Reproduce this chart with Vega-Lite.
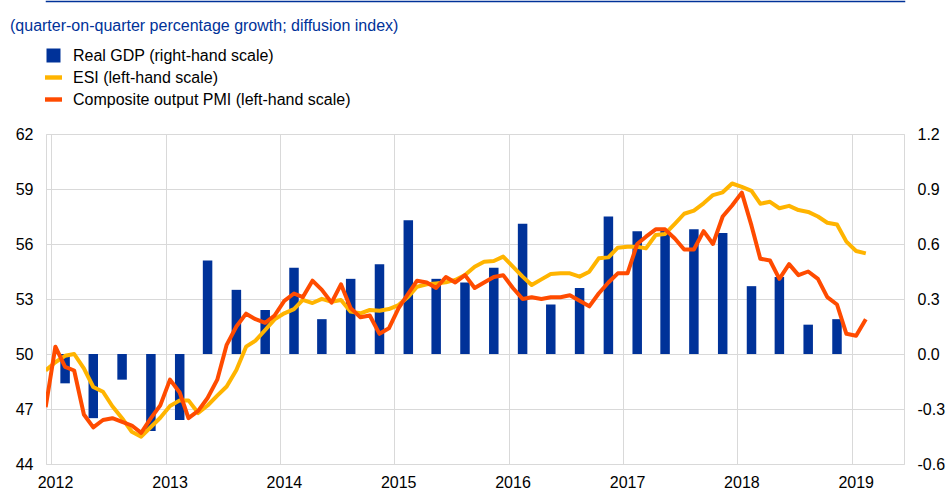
{
  "$schema": "https://vega.github.io/schema/vega-lite/v6.json",
  "width": 858,
  "height": 330,
  "autosize": {"type": "none"},
  "padding": {"left": 46, "top": 134, "right": 43, "bottom": 26},
  "background": "white",
  "title": {
    "text": "(quarter-on-quarter percentage growth; diffusion index)",
    "anchor": "start",
    "frame": "group",
    "orient": "top",
    "font": "Liberation Sans",
    "fontSize": 16,
    "fontWeight": "normal",
    "color": "#003299",
    "baseline": "alphabetic",
    "dx": -36,
    "offset": -46
  },
  "config": {
    "view": {"stroke": "#d9d9d9"},
    "font": "Liberation Sans",
    "axis": {
      "labelFont": "Liberation Sans",
      "labelFontSize": 16,
      "labelColor": "#000000",
      "ticks": false,
      "domain": false,
      "gridColor": "#d9d9d9",
      "gridWidth": 1,
      "title": null
    }
  },
  "datasets": {
    "gdp": [
      {"date": "2012-02-15", "gdp": -0.16},
      {"date": "2012-05-15", "gdp": -0.35},
      {"date": "2012-08-15", "gdp": -0.14},
      {"date": "2012-11-15", "gdp": -0.42},
      {"date": "2013-02-15", "gdp": -0.36},
      {"date": "2013-05-15", "gdp": 0.51},
      {"date": "2013-08-15", "gdp": 0.35},
      {"date": "2013-11-15", "gdp": 0.24},
      {"date": "2014-02-15", "gdp": 0.47},
      {"date": "2014-05-15", "gdp": 0.19},
      {"date": "2014-08-15", "gdp": 0.41},
      {"date": "2014-11-15", "gdp": 0.49},
      {"date": "2015-02-15", "gdp": 0.73},
      {"date": "2015-05-15", "gdp": 0.41},
      {"date": "2015-08-15", "gdp": 0.39},
      {"date": "2015-11-15", "gdp": 0.47},
      {"date": "2016-02-15", "gdp": 0.71},
      {"date": "2016-05-15", "gdp": 0.27},
      {"date": "2016-08-15", "gdp": 0.36},
      {"date": "2016-11-15", "gdp": 0.75},
      {"date": "2017-02-15", "gdp": 0.67},
      {"date": "2017-05-15", "gdp": 0.68},
      {"date": "2017-08-15", "gdp": 0.68},
      {"date": "2017-11-15", "gdp": 0.66},
      {"date": "2018-02-15", "gdp": 0.37},
      {"date": "2018-05-15", "gdp": 0.42},
      {"date": "2018-08-15", "gdp": 0.16},
      {"date": "2018-11-15", "gdp": 0.19}
    ],
    "indices": [
      {"date": "2011-12-15", "esi": 49.1, "pmi": 47.1},
      {"date": "2012-01-15", "esi": 49.55, "pmi": 50.4},
      {"date": "2012-02-15", "esi": 49.9, "pmi": 49.3},
      {"date": "2012-03-15", "esi": 50.0, "pmi": 49.1},
      {"date": "2012-04-15", "esi": 49.22, "pmi": 46.7},
      {"date": "2012-05-15", "esi": 48.2, "pmi": 46.0},
      {"date": "2012-06-15", "esi": 47.94, "pmi": 46.4},
      {"date": "2012-07-15", "esi": 47.15, "pmi": 46.5},
      {"date": "2012-08-15", "esi": 46.5, "pmi": 46.3},
      {"date": "2012-09-15", "esi": 45.76, "pmi": 46.1},
      {"date": "2012-10-15", "esi": 45.49, "pmi": 45.7},
      {"date": "2012-11-15", "esi": 46.02, "pmi": 46.5},
      {"date": "2012-12-15", "esi": 46.52, "pmi": 47.2},
      {"date": "2013-01-15", "esi": 47.16, "pmi": 48.6},
      {"date": "2013-02-15", "esi": 47.47, "pmi": 47.9},
      {"date": "2013-03-15", "esi": 47.47, "pmi": 46.5},
      {"date": "2013-04-15", "esi": 46.78, "pmi": 46.9},
      {"date": "2013-05-15", "esi": 47.19, "pmi": 47.6},
      {"date": "2013-06-15", "esi": 47.73, "pmi": 48.6},
      {"date": "2013-07-15", "esi": 48.23, "pmi": 50.5},
      {"date": "2013-08-15", "esi": 49.13, "pmi": 51.5},
      {"date": "2013-09-15", "esi": 50.4, "pmi": 52.2},
      {"date": "2013-10-15", "esi": 50.73, "pmi": 51.9},
      {"date": "2013-11-15", "esi": 51.31, "pmi": 51.7},
      {"date": "2013-12-15", "esi": 51.89, "pmi": 52.1},
      {"date": "2014-01-15", "esi": 52.22, "pmi": 52.9},
      {"date": "2014-02-15", "esi": 52.45, "pmi": 53.3},
      {"date": "2014-03-15", "esi": 52.95, "pmi": 53.1},
      {"date": "2014-04-15", "esi": 52.78, "pmi": 54.0},
      {"date": "2014-05-15", "esi": 53.01, "pmi": 53.5},
      {"date": "2014-06-15", "esi": 52.85, "pmi": 52.8},
      {"date": "2014-07-15", "esi": 52.95, "pmi": 53.8},
      {"date": "2014-08-15", "esi": 52.31, "pmi": 52.5},
      {"date": "2014-09-15", "esi": 52.22, "pmi": 52.0},
      {"date": "2014-10-15", "esi": 52.4, "pmi": 52.1},
      {"date": "2014-11-15", "esi": 52.36, "pmi": 51.1},
      {"date": "2014-12-15", "esi": 52.45, "pmi": 51.4},
      {"date": "2015-01-15", "esi": 52.67, "pmi": 52.5},
      {"date": "2015-02-15", "esi": 53.13, "pmi": 53.3},
      {"date": "2015-03-15", "esi": 53.67, "pmi": 54.0},
      {"date": "2015-04-15", "esi": 53.8, "pmi": 53.9},
      {"date": "2015-05-15", "esi": 53.85, "pmi": 53.6},
      {"date": "2015-06-15", "esi": 53.91, "pmi": 54.2},
      {"date": "2015-07-15", "esi": 54.04, "pmi": 53.9},
      {"date": "2015-08-15", "esi": 54.31, "pmi": 54.3},
      {"date": "2015-09-15", "esi": 54.76, "pmi": 53.6},
      {"date": "2015-10-15", "esi": 55.03, "pmi": 53.9},
      {"date": "2015-11-15", "esi": 55.07, "pmi": 54.2},
      {"date": "2015-12-15", "esi": 55.31, "pmi": 54.3},
      {"date": "2016-01-15", "esi": 54.76, "pmi": 53.6},
      {"date": "2016-02-15", "esi": 54.22, "pmi": 53.0},
      {"date": "2016-03-15", "esi": 53.76, "pmi": 53.1},
      {"date": "2016-04-15", "esi": 54.07, "pmi": 53.0},
      {"date": "2016-05-15", "esi": 54.36, "pmi": 53.1},
      {"date": "2016-06-15", "esi": 54.4, "pmi": 53.1},
      {"date": "2016-07-15", "esi": 54.4, "pmi": 53.2},
      {"date": "2016-08-15", "esi": 54.22, "pmi": 52.9},
      {"date": "2016-09-15", "esi": 54.49, "pmi": 52.6},
      {"date": "2016-10-15", "esi": 55.22, "pmi": 53.3},
      {"date": "2016-11-15", "esi": 55.27, "pmi": 53.9},
      {"date": "2016-12-15", "esi": 55.8, "pmi": 54.4},
      {"date": "2017-01-15", "esi": 55.85, "pmi": 54.4},
      {"date": "2017-02-15", "esi": 55.85, "pmi": 56.0},
      {"date": "2017-03-15", "esi": 55.76, "pmi": 56.4},
      {"date": "2017-04-15", "esi": 56.49, "pmi": 56.8},
      {"date": "2017-05-15", "esi": 56.55, "pmi": 56.8},
      {"date": "2017-06-15", "esi": 57.1, "pmi": 56.3},
      {"date": "2017-07-15", "esi": 57.65, "pmi": 55.7},
      {"date": "2017-08-15", "esi": 57.82, "pmi": 55.7},
      {"date": "2017-09-15", "esi": 58.22, "pmi": 56.7},
      {"date": "2017-10-15", "esi": 58.67, "pmi": 56.0},
      {"date": "2017-11-15", "esi": 58.82, "pmi": 57.5},
      {"date": "2017-12-15", "esi": 59.3, "pmi": 58.1},
      {"date": "2018-01-15", "esi": 59.12, "pmi": 58.8},
      {"date": "2018-02-15", "esi": 58.9, "pmi": 57.0},
      {"date": "2018-03-15", "esi": 58.2, "pmi": 55.2},
      {"date": "2018-04-15", "esi": 58.3, "pmi": 55.1},
      {"date": "2018-05-15", "esi": 57.95, "pmi": 54.1},
      {"date": "2018-06-15", "esi": 58.08, "pmi": 54.9},
      {"date": "2018-07-15", "esi": 57.85, "pmi": 54.3},
      {"date": "2018-08-15", "esi": 57.75, "pmi": 54.5},
      {"date": "2018-09-15", "esi": 57.5, "pmi": 54.1},
      {"date": "2018-10-15", "esi": 57.16, "pmi": 53.1},
      {"date": "2018-11-15", "esi": 57.06, "pmi": 52.7},
      {"date": "2018-12-15", "esi": 56.13, "pmi": 51.1},
      {"date": "2019-01-15", "esi": 55.62, "pmi": 51.0},
      {"date": "2019-02-15", "esi": 55.49, "pmi": 51.9}
    ]
  },
  "layer": [
    {
      "data": {"name": "gdp"},
      "mark": {"type": "bar", "size": 9.5},
      "encoding": {
        "x": {
          "field": "date",
          "type": "temporal",
          "scale": {
            "type": "utc",
            "domain": [
              {"year": 2012, "month": 1, "date": 1, "utc": true},
              {"year": 2019, "month": 6, "date": 1, "utc": true}
            ]
          },
          "axis": {
            "orient": "bottom",
            "format": "%Y",
            "tickCount": {"interval": "year", "step": 1},
            "grid": true,
            "labelPadding": 10,
            "labelOffset": 4,
            "labelFlush": false,
            "labelOverlap": false,
            "labelAlign": "center"
          }
        },
        "y": {
          "field": "gdp",
          "type": "quantitative",
          "scale": {"domain": [-0.6, 1.2], "nice": false, "zero": true},
          "axis": {
            "orient": "right",
            "grid": false,
            "values": [-0.6, -0.3, 0, 0.3, 0.6, 0.9, 1.2],
            "labelExpr": "(datum.value < -0.001 ? '-' : '') + format(abs(datum.value), '.1f')",
            "labelPadding": 13
          }
        },
        "color": {
          "datum": "Real GDP (right-hand scale)",
          "type": "nominal",
          "scale": {
            "domain": ["Real GDP (right-hand scale)", "ESI (left-hand scale)", "Composite output PMI (left-hand scale)"],
            "range": ["#003299", "#FFB400", "#FF4B00"]
          },
          "legend": {
            "orient": "none",
            "legendX": -1,
            "legendY": -87,
            "title": null,
            "direction": "vertical",
            "padding": 0,
            "labelFont": "Liberation Sans",
            "labelFontSize": 16,
            "labelColor": "#000000",
            "labelLimit": 600,
            "labelOffset": 11,
            "rowPadding": 5,
            "symbolSize": 289,
            "encode": {
              "symbols": {
                "update": {
                  "shape": {"signal": "datum.value === 'Real GDP (right-hand scale)' ? 'square' : 'M-1,-0.26H1V0.26H-1Z'"},
                  "size": {"signal": "datum.value === 'Real GDP (right-hand scale)' ? 196 : 289"},
                  "fill": {"signal": "datum.value === 'Real GDP (right-hand scale)' ? '#003299' : (datum.value === 'ESI (left-hand scale)' ? '#FFB400' : '#FF4B00')"},
                  "stroke": {"value": "transparent"},
                  "strokeWidth": {"value": 0},
                  "opacity": {"value": 1}
                }
              }
            }
          }
        }
      }
    },
    {
      "data": {"name": "indices"},
      "encoding": {
        "y": {
          "type": "quantitative",
          "scale": {"domain": [44, 62], "nice": false, "zero": false},
          "axis": {
            "orient": "left",
            "grid": true,
            "values": [44, 47, 50, 53, 56, 59, 62],
            "labelPadding": 13
          }
        }
      },
      "layer": [
        {
          "mark": {"type": "line", "strokeWidth": 4, "clip": true, "strokeJoin": "round"},
          "encoding": {
            "x": {"field": "date", "type": "temporal", "axis": null},
            "y": {"field": "esi", "type": "quantitative"},
            "color": {"datum": "ESI (left-hand scale)", "type": "nominal"}
          }
        },
        {
          "mark": {"type": "line", "strokeWidth": 4, "clip": true, "strokeJoin": "round"},
          "encoding": {
            "x": {
              "field": "date",
              "type": "temporal",
              "axis": {
                "orient": "top",
                "offset": 133,
                "domain": true,
                "domainColor": "#003299",
                "domainWidth": 1.5,
                "domainCap": "square",
                "labels": false,
                "grid": false,
                "ticks": false
              }
            },
            "y": {"field": "pmi", "type": "quantitative"},
            "color": {"datum": "Composite output PMI (left-hand scale)", "type": "nominal"}
          }
        }
      ],
      "resolve": {"axis": {"x": "independent"}}
    }
  ],
  "resolve": {"scale": {"y": "independent"}, "axis": {"x": "independent"}}
}
